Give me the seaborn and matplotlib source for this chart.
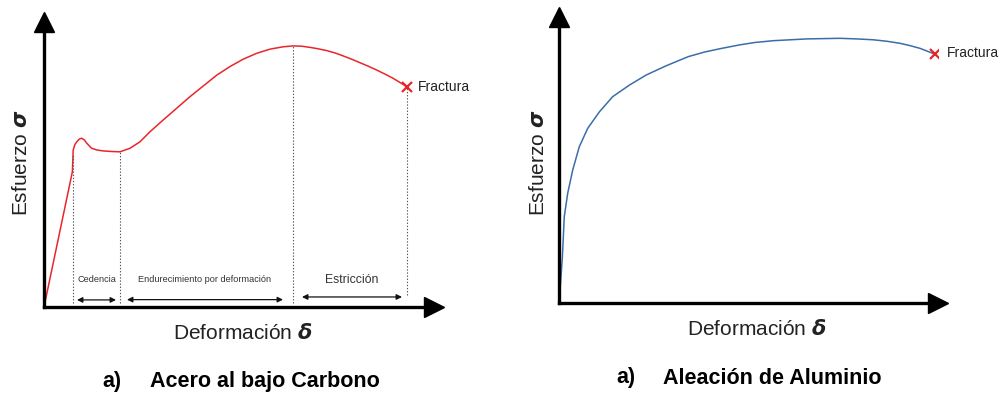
import numpy as np
import matplotlib
matplotlib.use("Agg")
import matplotlib.pyplot as plt
import seaborn as sns

# ---- data (arbitrary schematic units: strain 0-100, stress 0-100) ----
steel_strain = [0, 7.1, 7.3, 7.7, 8.2, 8.8, 9.4, 10.1, 10.7, 11.9, 13.3, 14.8, 17.0,
                19.0, 21.5, 24.0, 26.5, 29.8, 33.2, 36.5, 39.8, 43.2, 46.5, 49.8,
                53.2, 56.5, 59.8, 62.3, 64.4, 66.5, 68.6, 70.7, 72.8, 74.8, 76.9,
                79.0, 81.1, 83.2, 85.3, 87.3, 90.8]
steel_stress = [0, 45.9, 53.2, 55.0, 56.0, 56.9, 57.2, 56.6, 55.5, 53.8, 53.2, 52.9, 52.7,
                52.6, 53.8, 56.0, 59.4, 63.4, 67.4, 71.3, 74.9, 78.6, 81.5, 84.0,
                86.0, 87.4, 88.2, 88.5, 88.4, 88.0, 87.5, 86.9, 86.1, 85.1, 84.0,
                82.8, 81.6, 80.3, 78.9, 77.5, 74.6]

alu_strain = [0, 0.3, 0.85, 1.36, 2.24, 3.52, 5.22, 7.38, 10.4, 13.8, 18.1, 22.4, 27.5,
              33.2, 37.5, 41.8, 46.5, 50.4, 55.1, 59.4, 63.7, 68.0, 72.2, 76.5, 80.8,
              84.3, 87.7, 90.3, 92.8, 96.7]
alu_stress = [0, 5.0, 15.1, 29.2, 37.1, 44.9, 52.8, 59.0, 64.6, 69.7, 73.6, 77.0, 80.1,
              83.2, 84.8, 86.0, 87.2, 88.0, 88.6, 88.9, 89.2, 89.3, 89.4, 89.2, 88.9,
              88.4, 87.7, 86.9, 86.0, 84.0]

# phase boundaries on the steel curve (strain) and the zones between them
steel_bounds = [7.25, 19.0, 62.3, 90.8]
zone_names = ["Cedencia", "Endurecimiento por deformación", "Estricción"]
zone_spans = [(8.25, 18.0), (20.75, 59.75), (64.5, 89.5)]

titles = ["Acero al bajo Carbono", "Aleación de Aluminio"]
xlabel = "Deformación $\\boldsymbol{\\delta}$"
ylabel = "Esfuerzo $\\boldsymbol{\\sigma}$"

RED = "#e8262a"
BLUE = "#3a6ea8"
TXT = "#222222"

sns.set_theme(style="white")
plt.rcParams["font.family"] = ["Liberation Sans", "DejaVu Sans"]
plt.rcParams["mathtext.fontset"] = "custom"
plt.rcParams["mathtext.rm"] = "Liberation Sans"
plt.rcParams["mathtext.it"] = "Liberation Sans:italic"
plt.rcParams["mathtext.bf"] = "Liberation Sans:bold"
plt.rcParams["lines.solid_joinstyle"] = "round"

W, H = 1008, 397
fig = plt.figure(figsize=(W / 100, H / 100), dpi=100)
fig.patch.set_facecolor("white")


def px_rect(x0, y_top, x1, y_bot):
    return [x0 / W, 1 - y_bot / H, (x1 - x0) / W, (y_bot - y_top) / H]


ax1 = fig.add_axes(px_rect(44, 22, 434, 307))
ax2 = fig.add_axes(px_rect(559, 17, 938, 303))


def arrow_axes(ax):
    for s in ["top", "right"]:
        ax.spines[s].set_visible(False)
    for s in ["left", "bottom"]:
        ax.spines[s].set_linewidth(2.4)
        ax.spines[s].set_color("black")
        ax.spines[s].set_capstyle("projecting")
    ax.set_xticks([])
    ax.set_yticks([])
    ax.set_facecolor("none")
    ax.plot(1, 0, ">", color="black", ms=14.5, transform=ax.get_yaxis_transform(), clip_on=False)
    ax.plot(0, 1, "^", color="black", ms=14.5, transform=ax.get_xaxis_transform(), clip_on=False)
    ax.set_xlabel("")
    ax.set_ylabel("")


# ---- steel ----
ax1.set_xlim(0, 97.5)
ax1.set_ylim(0, 96.6)
sns.lineplot(x=steel_strain, y=steel_stress, ax=ax1, color=RED, lw=1.1,
             sort=False, estimator=None, clip_on=False)
arrow_axes(ax1)

for i, b in enumerate(steel_bounds):
    top = np.interp(b, steel_strain, steel_stress)
    bottom = 4.0 if i == len(steel_bounds) - 1 else 1.4
    ax1.plot([b, b], [bottom, top], ls=(0, (1.2, 1.6)), color="#555555", lw=0.8)

zone_y = [2.4, 2.5, 3.4]
zone_fs = [6.6, 6.6, 8.8]
for name, (a, b), yy, fs in zip(zone_names, zone_spans, zone_y, zone_fs):
    ax1.annotate("", xy=(b, yy), xytext=(a, yy),
                 arrowprops=dict(arrowstyle="<|-|>", color="#111111", lw=0.9,
                                 mutation_scale=8, shrinkA=0, shrinkB=0))
    ax1.text((a + b) / 2, 9.2, name, ha="center", va="center", fontsize=fs, color="#333333")

ax1.plot(steel_strain[-1], steel_stress[-1], "x", color=RED, ms=7, mew=1.6)
ax1.annotate("Fractura", (steel_strain[-1], steel_stress[-1]), xytext=(11, 0),
             textcoords="offset pixels", ha="left", va="center", fontsize=10, color=TXT)

# ---- aluminium ----
ax2.set_xlim(0, 97.4)
ax2.set_ylim(0, 96.6)
sns.lineplot(x=alu_strain, y=alu_stress, ax=ax2, color=BLUE, lw=1.1,
             sort=False, estimator=None, clip_on=False)
arrow_axes(ax2)
ax2.plot(alu_strain[-1], alu_stress[-1], "x", color=RED, ms=7, mew=1.6)
ax2.annotate("Fractura", (alu_strain[-1], alu_stress[-1]), xytext=(12, 1),
             textcoords="offset pixels", ha="left", va="center", fontsize=10, color=TXT)

# ---- axis labels and captions ----
fig.text(243 / W, 1 - 333 / H, xlabel, ha="center", va="center", fontsize=15, color=TXT)
fig.text(757 / W, 1 - 329 / H, xlabel, ha="center", va="center", fontsize=15, color=TXT)
fig.text(21.5 / W, 1 - 163 / H, ylabel, ha="center", va="center", rotation=90, fontsize=15, color=TXT)
fig.text(538 / W, 1 - 163 / H, ylabel, ha="center", va="center", rotation=90, fontsize=15, color=TXT)

fig.text(102 / W, 1 - 382 / H, "a)", ha="left", va="center", fontsize=15.5, fontweight="bold", color="black")
fig.text(150 / W, 1 - 382 / H, titles[0], ha="left", va="center", fontsize=15.5, fontweight="bold", color="black")
fig.text(616 / W, 1 - 378 / H, "a)", ha="left", va="center", fontsize=15.5, fontweight="bold", color="black")
fig.text(663 / W, 1 - 378 / H, titles[1], ha="left", va="center", fontsize=15.5, fontweight="bold", color="black")

fig.savefig("out.png", dpi=100, facecolor="white")
